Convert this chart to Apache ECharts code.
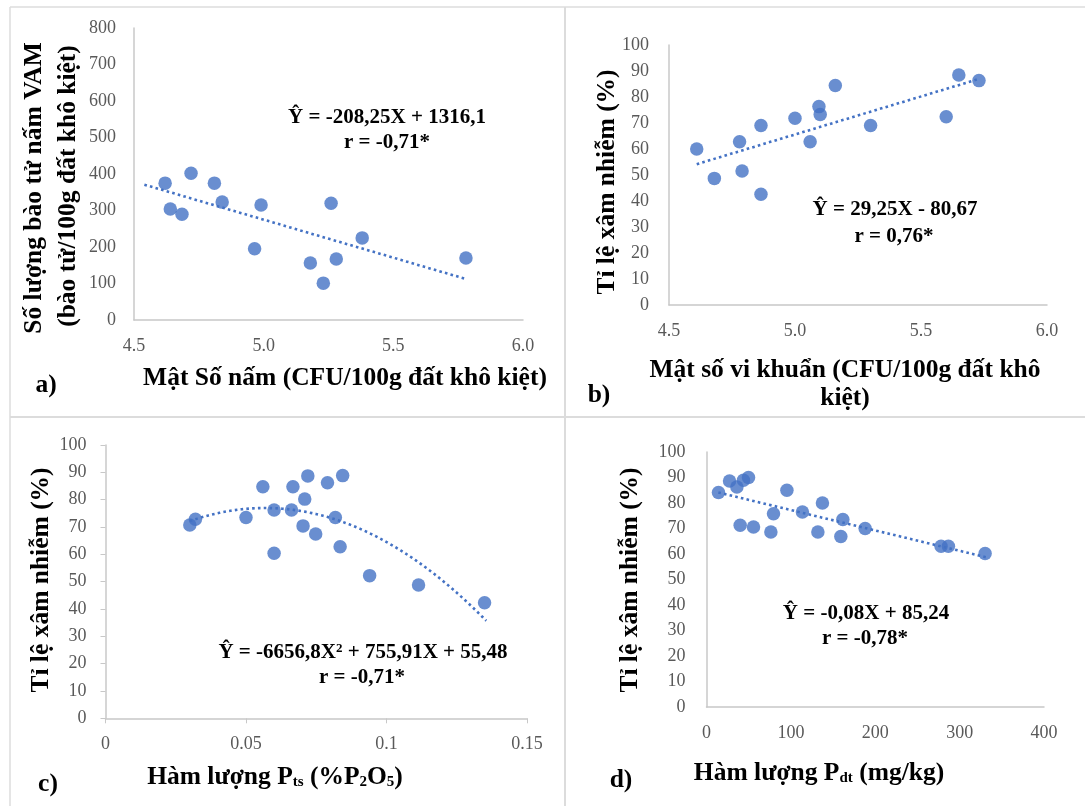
<!DOCTYPE html>
<html>
<head>
<meta charset="utf-8">
<script src="https://cdn.jsdelivr.net/npm/echarts@6/dist/echarts.min.js"></script>
<style>
html,body{margin:0;padding:0;background:#fff;}
#chart{width:1085px;height:806px;}
</style>
</head>
<body>
<div id="chart"></div>
<script>
// ---- Data ----
// a) fungal density vs VAM spore count
const aX = [4.62, 4.64, 4.685, 4.72, 4.81, 4.84, 4.965, 4.99, 5.18, 5.23, 5.26, 5.28, 5.38, 5.78];
const aY = [375, 304, 290, 402, 375, 323, 195, 315, 156, 101, 320, 167, 225, 170];
const aCoef = [1316.1, -208.25];          // Y = c0 + c1 X
const aTrendRange = [4.54, 5.78];

// b) bacterial density vs infection rate
const bX = [4.61, 4.68, 4.78, 4.79, 4.865, 4.865, 5.0, 5.06, 5.095, 5.10, 5.16, 5.30, 5.60, 5.65, 5.73];
const bY = [60, 48.7, 62.8, 51.5, 69, 42.6, 71.8, 62.8, 76.3, 73.3, 84.4, 69, 72.4, 88.5, 86.3];
const bCoef = [-80.67, 29.25];
const bTrendRange = [4.61, 5.73];

// c) total P vs infection rate
const cX = [0.030, 0.032, 0.050, 0.056, 0.060, 0.060, 0.0667, 0.0662, 0.0703, 0.0709, 0.0720, 0.0748, 0.0790, 0.0818, 0.0835, 0.0844, 0.0940, 0.1114, 0.1349];
const cY = [70.7, 72.8, 73.5, 84.7, 76.2, 60.4, 84.7, 76.2, 70.4, 80.2, 88.7, 67.4, 86.2, 73.5, 62.8, 88.8, 52.2, 48.8, 42.3];
const cCoef = [55.48, 755.91, -6656.8];   // Y = c0 + c1 X + c2 X^2
const cTrendRange = [0.030, 0.1355];

// d) available P vs infection rate
const dX = [14.2, 27.3, 36.0, 43.8, 49.8, 39.9, 55.7, 79.4, 76.3, 95.3, 113.7, 132, 137.4, 159.2, 161.6, 188, 278, 286.7, 330.2];
const dY = [84.1, 88.6, 86.3, 88.9, 90.0, 71.3, 70.6, 75.8, 68.6, 85.0, 76.5, 68.6, 80.0, 66.9, 73.5, 70.0, 63.0, 63.0, 60.2];
const dCoef = [85.24, -0.08];
const dTrendRange = [14, 332];

// Axis tick settings
const aXTicks = {min: 4.5, max: 6.0, interval: 0.5};
const aYTicks = {min: 0, max: 800, interval: 100};
const bXTicks = {min: 4.5, max: 6.0, interval: 0.5};
const pctTicks = {min: 0, max: 100, interval: 10};
const cXTicks = {min: 0, max: 0.15, interval: 0.05};
const dXTicks = {min: 0, max: 400, interval: 100};

// ---- helpers ----
function pairs(xs, ys){ return xs.map((x,i)=>[x, ys[i]]); }
function poly(coef, x){ let s=0; for(let i=0;i<coef.length;i++) s+=coef[i]*Math.pow(x,i); return s; }
function trend(coef, range, n){
  const out=[]; for(let i=0;i<=n;i++){ const x=range[0]+(range[1]-range[0])*i/n; out.push([x, poly(coef,x)]); } return out;
}

const BLUE = '#4472C4';
const SERIF = '"Liberation Serif", "Times New Roman", serif';
const AXC = '#c8c8c8';
const LABC = '#595959';
const TITLE = 25.5;
const EQ = 21;

function xAxis(gi, t, fmt, ticks){
  return {type:'value', gridIndex:gi, min:t.min, max:t.max, interval:t.interval,
    axisLine:{show:true, lineStyle:{color:AXC, width:1.5}},
    axisTick:{show:!!ticks, length:5, lineStyle:{color:AXC}},
    splitLine:{show:false},
    axisLabel:{color:LABC, fontFamily:SERIF, fontSize:18, margin:17, formatter:fmt}};
}
function yAxis(gi, t, ticks, margin){
  return {type:'value', gridIndex:gi, min:t.min, max:t.max, interval:t.interval,
    axisLine:{show:true, lineStyle:{color:AXC, width:1.5}},
    axisTick:{show:!!ticks, length:5, lineStyle:{color:AXC}},
    splitLine:{show:false},
    axisLabel:{color:LABC, fontFamily:SERIF, fontSize:18, margin:margin}};
}
function scatter(i, xs, ys){
  return {type:'scatter', xAxisIndex:i, yAxisIndex:i, data:pairs(xs,ys), symbolSize:13.5,
    itemStyle:{color:BLUE}, z:3, silent:true};
}
function line(i, data){
  return {type:'line', xAxisIndex:i, yAxisIndex:i, data:data, showSymbol:false, smooth:false,
    lineStyle:{color:BLUE, width:2.6, type:[2.6,3.2], cap:'butt'}, z:2, silent:true};
}

function txt(x, y, text, size, opts){
  opts = opts||{};
  return {type:'text', x:x, y:y, rotation:opts.rot||0, z:10,
    style:{text:text, fill:'#000', font:'bold '+size+'px '+SERIF, align:'center', verticalAlign:'middle', rich:opts.rich}};
}
function hline(x1,y,x2,w){ return {type:'line', shape:{x1:x1,y1:y,x2:x2,y2:y}, style:{stroke:'#dcdcdc', lineWidth:w}}; }
function vline(x,y1,y2,w){ return {type:'line', shape:{x1:x,y1:y1,x2:x,y2:y2}, style:{stroke:'#dcdcdc', lineWidth:w}}; }

const subRich = {
  sub:{font:'bold 15px '+SERIF, fill:'#000', verticalAlign:'bottom', padding:[11,0,0,0]},
};
const supRich = {
  sup:{font:'bold 13px '+SERIF, fill:'#000', verticalAlign:'top', padding:[0,0,9,0]},
};

const option = {
  animation:false,
  backgroundColor:'#fff',
  grid:[
    {left:134, top:28, width:389, height:292},
    {left:669, top:45, width:378, height:260},
    {left:105.5, top:445, width:421.5, height:273.3},
    {left:706.5, top:452, width:337.5, height:255}
  ],
  xAxis:[
    xAxis(0, aXTicks, v=>v.toFixed(1), false),
    xAxis(1, bXTicks, v=>v.toFixed(1), false),
    xAxis(2, cXTicks, v=>String(+v.toFixed(2)), true),
    xAxis(3, dXTicks, null, false)
  ],
  yAxis:[
    yAxis(0, aYTicks, false, 18),
    yAxis(1, pctTicks, false, 20),
    yAxis(2, pctTicks, true, 19),
    yAxis(3, pctTicks, false, 21)
  ],
  series:[
    line(0, trend(aCoef, aTrendRange, 2)),
    scatter(0, aX, aY),
    line(1, trend(bCoef, bTrendRange, 2)),
    scatter(1, bX, bY),
    line(2, trend(cCoef, cTrendRange, 80)),
    scatter(2, cX, cY),
    line(3, trend(dCoef, dTrendRange, 2)),
    scatter(3, dX, dY)
  ],
  graphic:[
    // panel frames
    hline(10, 7, 1085, 1.5), vline(10, 7, 806, 1.5),
    vline(565, 7, 806, 2), hline(10, 417, 1085, 2),
    // panel a
    txt(34, 188, 'Số lượng bào tử nấm VAM', TITLE, {rot:Math.PI/2}),
    txt(68, 186, '(bào tử/100g đất khô kiệt)', TITLE, {rot:Math.PI/2}),
    txt(345, 378, 'Mật Số nấm (CFU/100g đất khô kiệt)', TITLE),
    txt(46, 385, 'a)', TITLE),
    txt(387, 118, 'Ŷ = -208,25X + 1316,1', EQ),
    txt(387, 143, 'r = -0,71*', EQ),
    // panel b
    txt(607, 182, 'Tỉ lệ xâm nhiễm (%)', TITLE, {rot:Math.PI/2}),
    txt(845, 370, 'Mật số vi khuẩn (CFU/100g đất khô', TITLE),
    txt(845, 398, 'kiệt)', TITLE),
    txt(599, 395, 'b)', TITLE),
    txt(895, 210, 'Ŷ = 29,25X - 80,67', EQ),
    txt(894, 237, 'r = 0,76*', EQ),
    // panel c
    txt(41, 580, 'Tỉ lệ xâm nhiễm (%)', TITLE, {rot:Math.PI/2}),
    txt(275, 777, 'Hàm lượng P{sub|ts} (%P{sub|2}O{sub|5})', TITLE, {rich:subRich}),
    txt(48, 784, 'c)', TITLE),
    txt(363, 653, 'Ŷ = -6656,8X{sup|2} + 755,91X + 55,48', EQ, {rich:supRich}),
    txt(362, 678, 'r = -0,71*', EQ),
    // panel d
    txt(630, 580, 'Tỉ lệ xâm nhiễm (%)', TITLE, {rot:Math.PI/2}),
    txt(819, 773, 'Hàm lượng P{sub|dt} (mg/kg)', TITLE, {rich:subRich}),
    txt(621, 780, 'd)', TITLE),
    txt(866, 614, 'Ŷ = -0,08X + 85,24', EQ),
    txt(865, 639, 'r = -0,78*', EQ)
  ]
};

const chart = echarts.init(document.getElementById('chart'), null, {renderer:'canvas'});
chart.setOption(option);
</script>
</body>
</html>
